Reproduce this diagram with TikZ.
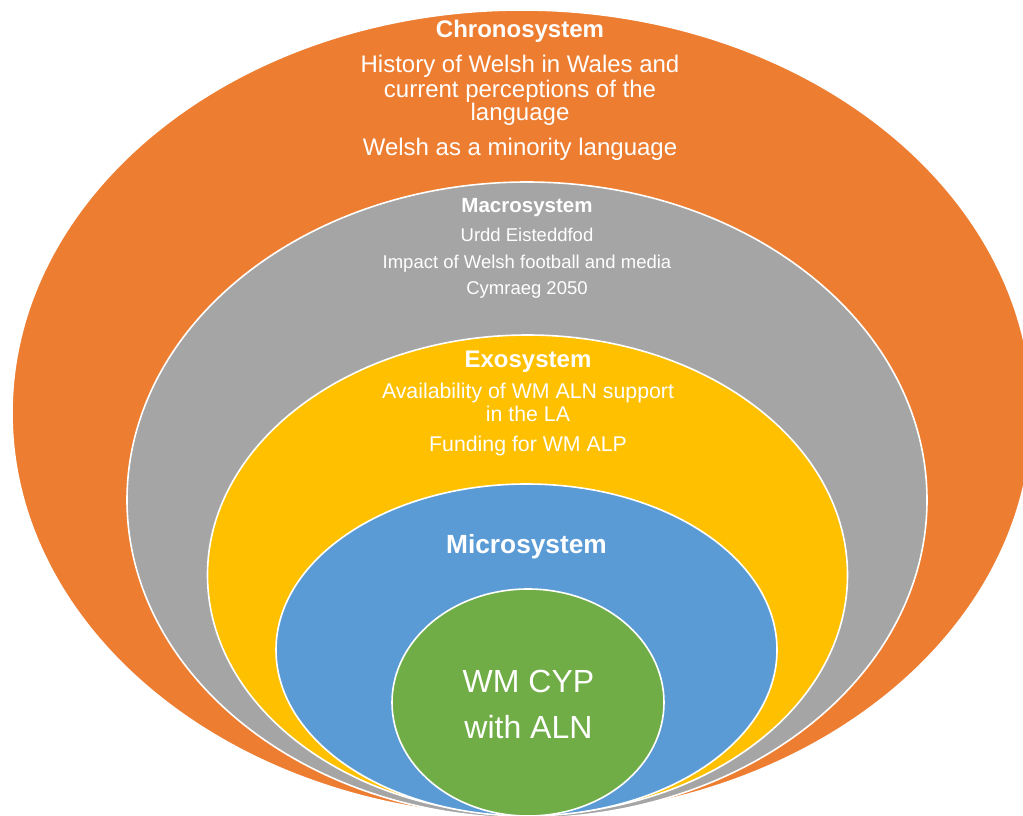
\documentclass[tikz,border=0pt]{standalone}
\usepackage{fontspec}
\setmainfont{Liberation Sans}
\usepackage{tikz}
\definecolor{chronocol}{HTML}{ED7D31}
\definecolor{macrocol}{HTML}{A5A5A5}
\definecolor{exocol}{HTML}{FFC000}
\definecolor{microcol}{HTML}{5B9BD5}
\definecolor{childcol}{HTML}{70AD47}
\tikzset{
  sphere/.style={draw=white, line width=1.6pt},
  txt/.style={text=white, inner sep=0pt, anchor=base},
  title/.style={txt, font=\bfseries\fontsize{#1}{#1}\selectfont},
  entry/.style={txt, font=\fontsize{#1}{#1}\selectfont}
}
\begin{document}
\begin{tikzpicture}[x=1pt,y=1pt]
\useasboundingbox (0,0) rectangle (1023,-816);
\clip (0,0) rectangle (1023,-816);
\draw[sphere, fill=chronocol] (522,-413) ellipse [x radius=510, y radius=403];
\draw[sphere, fill=macrocol] (527,-500) ellipse [x radius=400, y radius=318];
\draw[sphere, fill=exocol] (527.5,-575) ellipse [x radius=320, y radius=240];
\draw[sphere, fill=microcol] (526.5,-650) ellipse [x radius=250.5, y radius=166];
\draw[sphere, fill=childcol] (528,-702.5) ellipse [x radius=136, y radius=113.5];

\node[title=24] (chrono) at (520,-38) {Chronosystem};
\node[entry=24] (chronoA) at (520,-73) {History of Welsh in Wales and};
\node[entry=24] (chronoB) at (520,-97) {current perceptions of the};
\node[entry=24] (chronoC) at (520,-121) {language};
\node[entry=24] (chronoD) at (520,-155) {Welsh as a minority language};

\node[title=20.5] (macro) at (527,-212) {Macrosystem};
\node[entry=18.5] (macroA) at (527,-241) {Urdd Eisteddfod};
\node[entry=18.5] (macroB) at (527,-268) {Impact of Welsh football and media};
\node[entry=18.5] (macroC) at (527,-294) {Cymraeg 2050};

\node[title=24] (exo) at (528,-367) {Exosystem};
\node[entry=21.3] (exoA) at (528,-398) {Availability of WM ALN support};
\node[entry=21.3] (exoB) at (528,-421) {in the LA};
\node[entry=21.3] (exoC) at (528,-451) {Funding for WM ALP};

\node[title=26.3] (micro) at (526.5,-553) {Microsystem};

\node[entry=32] (childA) at (528.5,-692) {WM CYP};
\node[entry=32] (childB) at (528.5,-738) {with ALN};
\end{tikzpicture}
\end{document}
